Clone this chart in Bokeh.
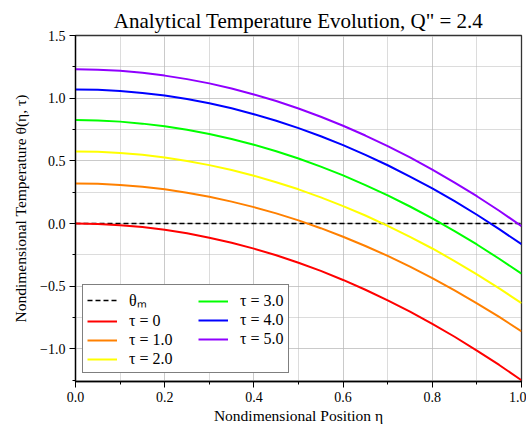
from bokeh.plotting import figure
from bokeh.embed import file_html
from bokeh.resources import INLINE
from bokeh.models import Legend, LegendItem, CustomJSTickFormatter, FixedTicker, Range1d

eta = [0.0, 0.05, 0.1, 0.15, 0.2, 0.25, 0.3, 0.35, 0.4, 0.45, 0.5,
       0.55, 0.6, 0.65, 0.7, 0.75, 0.8, 0.85, 0.9, 0.95, 1.0]

theta_tau0 = [0, -0.003, -0.013, -0.028, -0.05, -0.078, -0.113, -0.153, -0.2, -0.253, -0.313,
              -0.378, -0.45, -0.528, -0.613, -0.703, -0.8, -0.903, -1.013, -1.128, -1.25]
theta_tau1 = [0.32, 0.317, 0.308, 0.293, 0.273, 0.246, 0.214, 0.175, 0.131, 0.081, 0.025,
              -0.037, -0.105, -0.179, -0.258, -0.344, -0.435, -0.533, -0.636, -0.745, -0.86]
theta_tau2 = [0.575, 0.572, 0.563, 0.548, 0.527, 0.499, 0.466, 0.427, 0.381, 0.330, 0.273,
              0.209, 0.139, 0.064, -0.018, -0.106, -0.199, -0.299, -0.405, -0.517, -0.635]
theta_tau3 = [0.825, 0.822, 0.813, 0.797, 0.776, 0.748, 0.715, 0.675, 0.629, 0.577, 0.519,
              0.454, 0.384, 0.307, 0.225, 0.136, 0.041, -0.060, -0.167, -0.281, -0.40]
theta_tau4 = [1.07, 1.067, 1.058, 1.042, 1.021, 0.993, 0.959, 0.919, 0.872, 0.820, 0.761,
              0.696, 0.625, 0.548, 0.465, 0.375, 0.280, 0.178, 0.070, -0.045, -0.165]
theta_tau5 = [1.23, 1.227, 1.218, 1.202, 1.18, 1.152, 1.118, 1.077, 1.03, 0.977, 0.918,
              0.852, 0.78, 0.702, 0.618, 0.527, 0.43, 0.327, 0.218, 0.102, -0.02]

series = [theta_tau0, theta_tau1, theta_tau2, theta_tau3, theta_tau4, theta_tau5]
series_labels = ["τ = 0", "τ = 1.0", "τ = 2.0", "τ = 3.0", "τ = 4.0", "τ = 5.0"]
series_colors = ["#ff0000", "#ff8000", "#ffff00", "#00ff00", "#0000ff", "#8f00ff"]
theta_m = 0.0

x_ticks = [0.0, 0.2, 0.4, 0.6, 0.8, 1.0]
y_ticks = [-1.0, -0.5, 0.0, 0.5, 1.0, 1.5]

FONT = "Liberation Serif"

p = figure(frame_width=446, frame_height=346, output_backend="svg", toolbar_location=None,
           x_range=Range1d(0, 1), y_range=Range1d(-1.26, 1.5),
           min_border_left=75, min_border_right=5, min_border_top=35, min_border_bottom=45,
           title='Analytical Temperature Evolution, Q" = 2.4')
p.title.text_font = FONT
p.title.text_font_size = "21px"
p.title.text_font_style = "normal"
p.title.text_color = "black"
p.title.align = "center"
p.title.offset = 0
p.title.standoff = 5

p.outline_line_color = "#333333"
p.outline_line_width = 1.3
p.background_fill_color = "white"
p.border_fill_color = "white"

for ax in (p.xaxis[0], p.yaxis[0]):
    ax.axis_line_color = "black"
    ax.axis_line_width = 1.3
    ax.major_tick_line_color = "black"
    ax.minor_tick_line_color = "black"
    ax.major_tick_in = 0
    ax.major_tick_out = 6
    ax.minor_tick_in = 0
    ax.minor_tick_out = 3
    ax.major_label_text_font = FONT
    ax.major_label_text_font_size = "14px"
    ax.major_label_text_color = "black"
    ax.major_label_standoff = 4
    ax.axis_label_text_font = FONT
    ax.axis_label_text_font_size = "15.5px"
    ax.axis_label_text_font_style = "normal"
    ax.axis_label_text_color = "black"
p.xaxis[0].axis_label_standoff = 2
p.yaxis[0].axis_label_standoff = 8

p.xaxis.ticker = FixedTicker(ticks=x_ticks, minor_ticks=[0.1 * i for i in range(11)])
p.yaxis.ticker = FixedTicker(ticks=y_ticks, minor_ticks=[-1.25 + 0.25 * i for i in range(12)])
fmt = CustomJSTickFormatter(code="return (tick < -1e-9 ? '\u2212' : '') + Math.abs(tick).toFixed(1);")
p.xaxis.formatter = fmt
p.yaxis.formatter = fmt
p.xaxis.axis_label = "Nondimensional Position η"
p.yaxis.axis_label = "Nondimensional Temperature θ(η, τ)"

for g in (p.xgrid[0], p.ygrid[0]):
    g.grid_line_color = "#b8b8b8"
    g.grid_line_dash = "1 1"
    g.grid_line_width = 1
    g.minor_grid_line_color = "#b8b8b8"
    g.minor_grid_line_dash = "1 1"
    g.minor_grid_line_width = 1

items = []
ref = p.line([eta[0], eta[-1]], [theta_m, theta_m], line_color="black", line_dash="5 3", line_width=1.5)
items.append(LegendItem(label="θₘ", renderers=[ref]))
for ys, lab, col in zip(series, series_labels, series_colors):
    r = p.line(eta, ys, line_color=col, line_width=2)
    items.append(LegendItem(label=lab, renderers=[r]))


def style_legend(lg):
    lg.label_text_font = FONT
    lg.label_text_font_size = "16px"
    lg.label_text_color = "black"
    lg.glyph_width = 30
    lg.glyph_height = 16
    lg.label_height = 16
    lg.label_standoff = 12
    lg.spacing = 1
    lg.padding = 4
    lg.margin = 0


legend1 = Legend(items=items[:4], location=(7, 8))
style_legend(legend1)
legend1.label_width = 155
legend1.border_line_color = "black"
legend1.border_line_width = 1.3
legend1.background_fill_alpha = 1
p.add_layout(legend1, "center")

legend2 = Legend(items=items[4:], location=(119, 29))
style_legend(legend2)
legend2.border_line_alpha = 0
legend2.background_fill_alpha = 0
p.add_layout(legend2, "center")

open("out.html", "w").write(file_html(p, INLINE))
